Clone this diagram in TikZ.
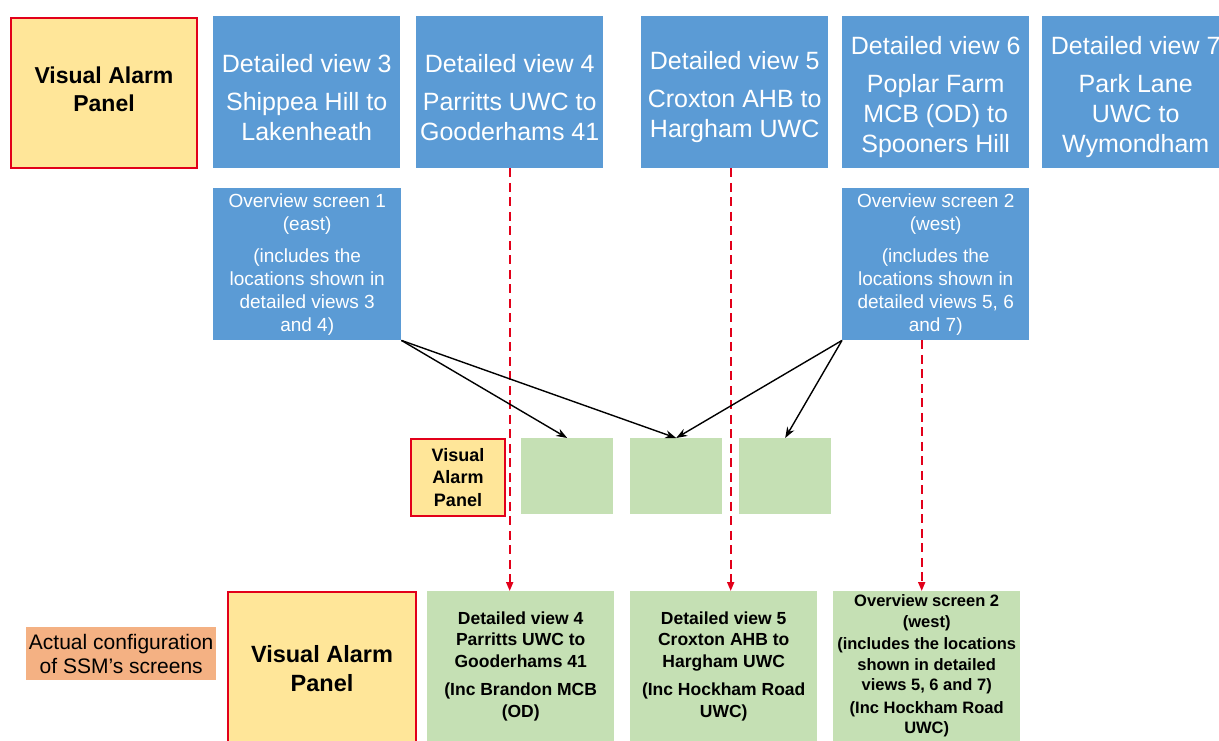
\documentclass[tikz,border=0pt]{standalone}
\usepackage{fontspec}
\setmainfont{Liberation Sans}
\usetikzlibrary{arrows.meta}

\definecolor{scrblue}{HTML}{5B9BD5}
\definecolor{scrgreen}{HTML}{C5E0B4}
\definecolor{vapyellow}{HTML}{FFE699}
\definecolor{vapred}{HTML}{E2001A}
\definecolor{notesalmon}{HTML}{F4B183}

\newcommand{\fs}[2]{\fontsize{#1}{#2}\selectfont}
\newcommand{\up}{\rule{0pt}{28pt}}
\newcommand{\dn}[1]{\rule[-#1]{0pt}{#1}}

\newcommand{\scrbox}[7]{
	\node[#1, anchor=north west, minimum width=#5pt, minimum height=#6pt] (#2) at (#3, #4) {#7};
}

\tikzset{
	scr/.style={fill=scrblue, text=white, align=center, inner sep=0pt},
	shown/.style={fill=scrgreen, align=center, inner sep=0pt},
	vap/.style={fill=vapyellow, draw=vapred, line width=2pt, align=center, inner sep=0pt},
	note/.style={fill=notesalmon, align=center, inner sep=0pt},
	feed/.style={draw=vapred, line width=1.8pt, dash pattern=on 9pt off 5.5pt, -{Triangle[length=9pt,width=7pt]}},
	conn/.style={draw=black, line width=1.4pt, -{Stealth[length=11pt,width=8pt]}}
}

\begin{document}
\begin{tikzpicture}[x=1pt, y=-1pt]
\useasboundingbox (0,0) rectangle (1219,740);

\pgfmathsetmacro{\topY}{16}
\pgfmathsetmacro{\ovY}{188}
\pgfmathsetmacro{\midY}{438}
\pgfmathsetmacro{\botY}{591}
\pgfmathsetmacro{\bigW}{187}
\pgfmathsetmacro{\bigH}{152}
\pgfmathsetmacro{\smW}{92}
\pgfmathsetmacro{\smH}{76}

% top row
\scrbox{vap, font=\fs{23}{28}\bfseries}{vapTop}{10}{\topY+1}{186}{150}{Visual Alarm\\Panel\dn{8pt}}
\scrbox{scr, font=\fs{25}{30}}{dv3}{213}{\topY}{\bigW}{\bigH}{\up Detailed view 3\\[8pt]Shippea Hill to\\Lakenheath}
\scrbox{scr, font=\fs{25}{30}}{dv4}{416}{\topY}{\bigW}{\bigH}{\up Detailed view 4\\[8pt]Parritts UWC to\\Gooderhams 41}
\scrbox{scr, font=\fs{25}{30}}{dv5}{641}{\topY}{\bigW}{\bigH}{\up Detailed view 5\\[8pt]Croxton AHB to\\Hargham UWC}
\scrbox{scr, font=\fs{25}{30}}{dv6}{842}{\topY}{\bigW}{\bigH}{\up Detailed view 6\\[8pt]Poplar Farm\\MCB (OD) to\\Spooners Hill}
\scrbox{scr, font=\fs{25}{30}}{dv7}{1042}{\topY}{\bigW}{\bigH}{\up Detailed view 7\\[8pt]Park Lane\\UWC to\\Wymondham}

% overview screens
\scrbox{scr, font=\fs{19}{23}}{ov1}{213}{\ovY}{188}{\bigH}{Overview screen 1\\(east)\\[9pt](includes the\\locations shown in\\detailed views 3\\and 4)}
\scrbox{scr, font=\fs{19}{23}}{ov2}{842}{\ovY}{\bigW}{\bigH}{Overview screen 2\\(west)\\[9pt](includes the\\locations shown in\\detailed views 5, 6\\and 7)}

% middle row
\scrbox{vap, font=\fs{18}{22.5}\bfseries}{vapMid}{410}{\midY}{94}{77}{Visual\\Alarm\\Panel}
\scrbox{shown}{g1}{521}{\midY}{\smW}{\smH}{}
\scrbox{shown}{g2}{630}{\midY}{\smW}{\smH}{}
\scrbox{shown}{g3}{739}{\midY}{\smW}{\smH}{}

% bottom row
\scrbox{note, font=\fs{21}{24}}{cfg}{26}{627}{190}{53}{Actual configuration\\of SSM’s screens}
\scrbox{vap, font=\fs{23.5}{29}\bfseries}{vapBot}{227}{\botY}{188}{160}{Visual Alarm\\Panel\dn{8pt}}
\scrbox{shown, font=\fs{17.5}{21.5}\bfseries}{b4}{427}{\botY}{\bigW}{150}{Detailed view 4\\Parritts UWC to\\Gooderhams 41\\[7pt](Inc Brandon MCB\\(OD)}
\scrbox{shown, font=\fs{17.5}{21.5}\bfseries}{b5}{630}{\botY}{\bigW}{150}{Detailed view 5\\Croxton AHB to\\Hargham UWC\\[7pt](Inc Hockham Road\\UWC)}
\scrbox{shown, font=\fs{16.5}{20.5}\bfseries}{b6}{833}{\botY}{\bigW}{150}{Overview screen 2\\(west)\\[2pt](includes the locations\\shown in detailed\\views 5, 6 and 7)\\[2pt](Inc Hockham Road\\UWC)}

\coordinate (d4) at (dv4.south);
\coordinate (d5) at ([xshift=-4pt]dv5.south);
\coordinate (d6) at ([xshift=-14pt]ov2.south);
\draw[feed] (d4) -- (d4 |- b4.north);
\draw[feed] (d5) -- (d5 |- b5.north);
\draw[feed] (d6) -- (d6 |- b6.north);

\draw[conn] (ov1.south east) -- (g1.north);
\draw[conn] (ov1.south east) -- (g2.north);
\draw[conn] (ov2.south west) -- (g2.north);
\draw[conn] (ov2.south west) -- (g3.north);
\end{tikzpicture}
\end{document}
